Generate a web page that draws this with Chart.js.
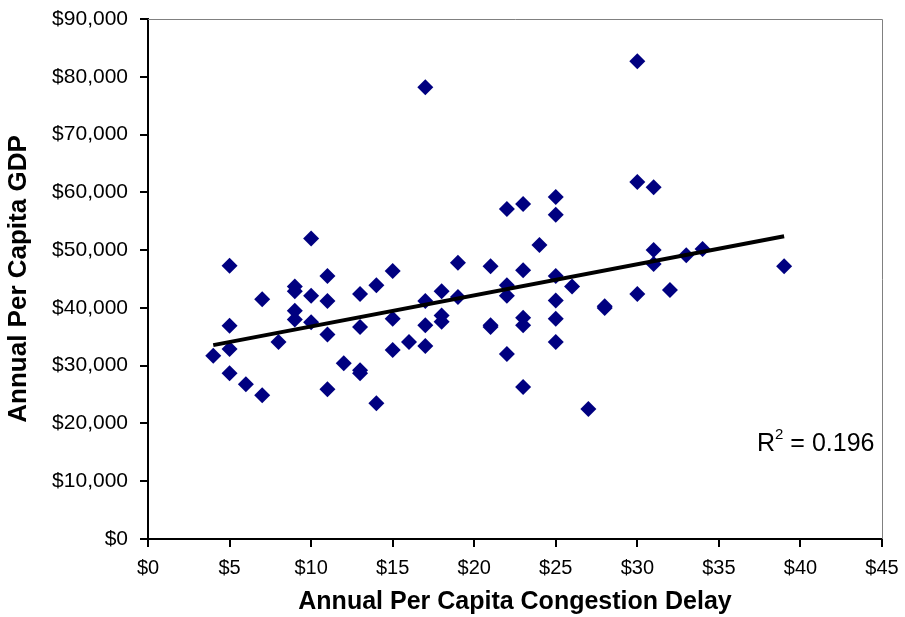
<!DOCTYPE html>
<html>
<head>
<meta charset="utf-8">
<script src="https://cdn.jsdelivr.net/npm/chart.js@4"></script>
<style>
  html, body { margin: 0; padding: 0; background: #fff; }
  #wrap { width: 905px; height: 617px; }
</style>
</head>
<body>
<div id="wrap"><canvas id="scatterChart" width="905" height="617"></canvas></div>
<script>
// annual per capita congestion delay ($) per city
const delayX = [
  4,
  5, 5, 5, 5,
  6,
  7, 7,
  8,
  9, 9, 9, 9,
  10, 10, 10,
  11, 11, 11, 11,
  12,
  13, 13, 13, 13,
  14, 14,
  15, 15, 15,
  16,
  17, 17, 17, 17,
  18, 18, 18,
  19, 19,
  21, 21, 21,
  22, 22, 22, 22,
  23, 23, 23, 23, 23,
  24,
  25, 25, 25, 25, 25, 25,
  26,
  27,
  28, 28,
  30, 30, 30,
  31, 31, 31,
  32,
  33,
  34,
  39
];
// annual per capita GDP ($)
const gdpY = [
  31700,
  47300, 36900, 32900, 28700,
  26800,
  41500, 24900,
  34100,
  43700, 42900, 39500, 38000,
  52000, 42100, 37500,
  45500, 41200, 35400, 25900,
  30400,
  42400, 36700, 29200, 28700,
  43900, 23500,
  46400, 38100, 32700,
  34100,
  78200, 41200, 37000, 33400,
  42900, 38700, 37600,
  47800, 41900,
  47200, 37000, 36700,
  57100, 43900, 42100, 32000,
  58000, 46500, 38300, 37000, 26300,
  50900,
  59200, 56100, 45500, 41300, 38100, 34100,
  43700,
  22500,
  40300, 40000,
  82700, 61800, 42400,
  60900, 50000, 47600,
  43100,
  49100,
  50200,
  47200
];
// linear trendline end points
const trendX = [4, 39];
const trendY = [33560, 52400];
const rSquared = '0.196';

const points = delayX.map((x, i) => ({ x: x, y: gdpY[i] }));
const trend = trendX.map((x, i) => ({ x: x, y: trendY[i] }));

const FONT = "'Liberation Sans', Arial, sans-serif";

const framePlugin = {
  id: 'frame',
  beforeDatasetsDraw(chart) {
    const { ctx, chartArea } = chart;
    ctx.save();
    ctx.strokeStyle = '#808080';
    ctx.lineWidth = 1;
    ctx.beginPath();
    ctx.moveTo(chartArea.left, chartArea.top + 0.5);
    ctx.lineTo(chartArea.right + 0.5, chartArea.top + 0.5);
    ctx.lineTo(chartArea.right + 0.5, chartArea.bottom);
    ctx.stroke();
    ctx.restore();
  },
  afterDraw(chart) {
    const { ctx, chartArea } = chart;
    ctx.save();
    ctx.fillStyle = '#000';
    ctx.textBaseline = 'alphabetic';
    ctx.font = '25px ' + FONT;
    const x0 = chartArea.right - 125;
    const y0 = 451;
    ctx.fillText('R', x0, y0);
    const rw = ctx.measureText('R').width;
    ctx.font = '15px ' + FONT;
    ctx.fillText('2', x0 + rw, y0 - 12);
    const sw = ctx.measureText('2').width;
    ctx.font = '25px ' + FONT;
    ctx.fillText(' = ' + rSquared, x0 + rw + sw, y0);
    ctx.restore();
  }
};

new Chart(document.getElementById('scatterChart'), {
  type: 'scatter',
  data: {
    datasets: [
      {
        type: 'line',
        label: 'Trend',
        data: trend,
        borderColor: '#000',
        borderWidth: 4,
        pointRadius: 0,
        fill: false,
        order: 0
      },
      {
        label: 'Cities',
        data: points,
        pointStyle: 'rectRot',
        pointRadius: 8,
        backgroundColor: '#000080',
        borderColor: '#000080',
        borderWidth: 0,
        order: 1
      }
    ]
  },
  options: {
    responsive: false,
    animation: false,
    layout: { padding: { top: 19, right: 23, bottom: 0, left: 0 } },
    plugins: {
      legend: { display: false },
      tooltip: { enabled: false }
    },
    scales: {
      x: {
        type: 'linear',
        min: 0,
        max: 45,
        afterFit(scale) {
          scale.height = 78;
          scale.paddingLeft = 0;
          scale.paddingRight = 0;
        },
        ticks: {
          stepSize: 5,
          color: '#000',
          font: { family: FONT, size: 20 },
          padding: 9,
          maxRotation: 0,
          callback: v => '$' + v
        },
        grid: { drawOnChartArea: false, drawTicks: true, tickLength: 8, color: '#000', lineWidth: 2 },
        border: { color: '#000', width: 2 },
        title: {
          display: true,
          text: 'Annual Per Capita Congestion Delay',
          color: '#000',
          font: { family: FONT, size: 25, weight: 'bold' },
          padding: { top: 0, bottom: 0 }
        }
      },
      y: {
        type: 'linear',
        min: 0,
        max: 90000,
        afterFit(scale) {
          scale.width = 148;
          scale.paddingTop = 0;
          scale.paddingBottom = 0;
        },
        ticks: {
          stepSize: 10000,
          color: '#000',
          font: { family: FONT, size: 21 },
          padding: 12,
          callback: v => '$' + v.toLocaleString('en-US')
        },
        grid: { drawOnChartArea: false, drawTicks: true, tickLength: 8, color: '#000', lineWidth: 2 },
        border: { color: '#000', width: 2 },
        title: {
          display: true,
          text: 'Annual Per Capita GDP',
          color: '#000',
          font: { family: FONT, size: 26, weight: 'bold' },
          padding: { top: 3, bottom: 0 }
        }
      }
    }
  },
  plugins: [framePlugin]
});
</script>
</body>
</html>
